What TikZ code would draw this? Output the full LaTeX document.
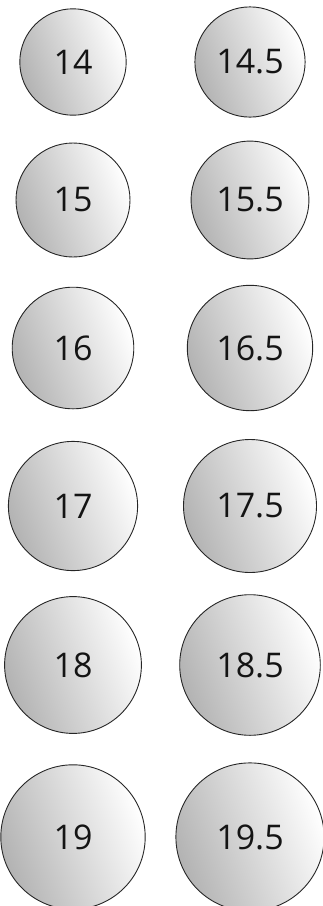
\documentclass[tikz,border=0pt]{standalone}
\usepackage{fontspec}
\setmainfont{Open Sans}
\tikzset{
	sizecircle/.style={circle, draw=black!85, line width=0.9pt, inner sep=0pt,
		left color=black!30, right color=white, shading angle=110,
		minimum size=#1, text=black!92, font=\fontsize{34}{40}\selectfont}
}

\begin{document}
\begin{tikzpicture}[x=1pt, y=-1pt]
      \useasboundingbox (0,0) rectangle (322,906);
      \foreach \v/\y in {14/62, 15/200, 16/348, 17/506, 18/665, 19/837} {
        \node[sizecircle=7.6*\v] (c\v) at (73,\y) {\v};
        \node[sizecircle=7.6*\v+3.8] (c\v h) at (250,\y) {\v.5};
      }
    \end{tikzpicture}
\end{document}
